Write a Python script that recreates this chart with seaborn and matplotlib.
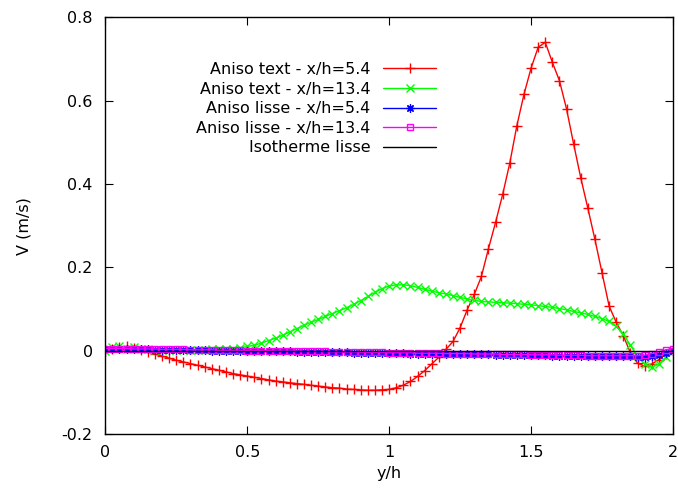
import numpy as np
import pandas as pd
import matplotlib
matplotlib.use("Agg")
import matplotlib.pyplot as plt
import seaborn as sns
from matplotlib.ticker import FuncFormatter

# y/h sampling (shared by the four profiles)
yh = [0.000, 0.025, 0.050, 0.075, 0.100, 0.125, 0.150, 0.175, 0.200, 0.225,
      0.250, 0.275, 0.300, 0.325, 0.350, 0.375, 0.400, 0.425, 0.450, 0.475,
      0.500, 0.525, 0.550, 0.575, 0.600, 0.625, 0.650, 0.675, 0.700, 0.725,
      0.750, 0.775, 0.800, 0.825, 0.850, 0.875, 0.900, 0.925, 0.950, 0.975,
      1.000, 1.025, 1.050, 1.075, 1.100, 1.125, 1.150, 1.175, 1.200, 1.225,
      1.250, 1.275, 1.300, 1.325, 1.350, 1.375, 1.400, 1.425, 1.450, 1.475,
      1.500, 1.525, 1.550, 1.575, 1.600, 1.625, 1.650, 1.675, 1.700, 1.725,
      1.750, 1.775, 1.800, 1.825, 1.850, 1.875, 1.900, 1.925, 1.950, 1.975,
      2.000]

v_text_54 = [0.000, 0.003, 0.008, 0.010, 0.007, 0.002, -0.003, -0.008, -0.013, -0.018,
             -0.023, -0.027, -0.031, -0.035, -0.039, -0.043, -0.047, -0.051, -0.055, -0.058,
             -0.061, -0.064, -0.067, -0.070, -0.073, -0.075, -0.077, -0.079, -0.081, -0.083,
             -0.085, -0.087, -0.089, -0.090, -0.092, -0.093, -0.094, -0.095, -0.095, -0.094,
             -0.093, -0.089, -0.083, -0.074, -0.062, -0.048, -0.032, -0.016, 0.003, 0.022,
             0.055, 0.098, 0.135, 0.178, 0.245, 0.308, 0.375, 0.450, 0.540, 0.615,
             0.678, 0.728, 0.740, 0.692, 0.648, 0.580, 0.496, 0.415, 0.342, 0.267,
             0.187, 0.107, 0.068, 0.036, -0.005, -0.030, -0.037, -0.032, -0.022, -0.008,
             0.000]

v_text_134 = [0.000, 0.008, 0.012, 0.005, 0.008, 0.004, 0.003, 0.002, 0.002, 0.002,
              0.002, 0.002, 0.002, 0.002, 0.002, 0.003, 0.003, 0.004, 0.005, 0.007,
              0.010, 0.013, 0.018, 0.024, 0.030, 0.037, 0.045, 0.053, 0.061, 0.068,
              0.075, 0.082, 0.089, 0.096, 0.103, 0.111, 0.120, 0.130, 0.140, 0.149,
              0.155, 0.158, 0.158, 0.156, 0.152, 0.147, 0.143, 0.139, 0.136, 0.132,
              0.128, 0.124, 0.121, 0.118, 0.117, 0.116, 0.115, 0.114, 0.113, 0.111,
              0.110, 0.108, 0.106, 0.104, 0.101, 0.098, 0.094, 0.091, 0.087, 0.082,
              0.077, 0.070, 0.058, 0.040, 0.013, -0.014, -0.032, -0.040, -0.032, -0.015,
              0.000]

v_lisse_54 = [0.004, 0.004, 0.004, 0.003, 0.003, 0.003, 0.003, 0.002, 0.002, 0.002,
              0.002, 0.001, 0.001, 0.001, 0.001, 0.000, 0.000, 0.000, 0.000, -0.001,
              -0.001, -0.001, -0.001, -0.002, -0.002, -0.002, -0.002, -0.003, -0.003, -0.003,
              -0.003, -0.004, -0.004, -0.004, -0.004, -0.005, -0.005, -0.005, -0.005, -0.006,
              -0.006, -0.006, -0.006, -0.007, -0.007, -0.007, -0.007, -0.008, -0.008, -0.008,
              -0.008, -0.009, -0.009, -0.009, -0.009, -0.010, -0.010, -0.010, -0.010, -0.011,
              -0.011, -0.011, -0.011, -0.012, -0.012, -0.012, -0.012, -0.013, -0.013, -0.013,
              -0.013, -0.014, -0.014, -0.014, -0.014, -0.015, -0.015, -0.013, -0.010, -0.005,
              0.000]

v_lisse_134 = [0.005, 0.005, 0.005, 0.005, 0.004, 0.004, 0.004, 0.004, 0.003, 0.003,
               0.003, 0.003, 0.002, 0.002, 0.002, 0.002, 0.001, 0.001, 0.001, 0.001,
               0.000, 0.000, 0.000, 0.000, -0.001, -0.001, -0.001, -0.001, -0.002, -0.002,
               -0.002, -0.002, -0.003, -0.003, -0.003, -0.003, -0.004, -0.004, -0.004, -0.004,
               -0.005, -0.005, -0.005, -0.005, -0.006, -0.006, -0.006, -0.006, -0.007, -0.007,
               -0.007, -0.007, -0.008, -0.008, -0.008, -0.008, -0.009, -0.009, -0.009, -0.009,
               -0.010, -0.010, -0.010, -0.010, -0.011, -0.011, -0.011, -0.011, -0.012, -0.012,
               -0.012, -0.012, -0.012, -0.012, -0.012, -0.012, -0.011, -0.007, -0.003, 0.002,
               0.005]

iso_yh = [0.0, 2.0]
iso_v = [0.0, 0.0]

labels = ["Aniso text - x/h=5.4", "Aniso text - x/h=13.4",
          "Aniso lisse - x/h=5.4", "Aniso lisse - x/h=13.4", "Isotherme lisse"]

sns.set_style("ticks")
plt.rcParams["font.family"] = ["DejaVu Sans"]
plt.rcParams["font.size"] = 11.5
plt.rcParams["axes.unicode_minus"] = False
plt.rcParams["text.color"] = "black"
plt.rcParams["axes.labelcolor"] = "black"
plt.rcParams["xtick.color"] = "black"
plt.rcParams["ytick.color"] = "black"

fig = plt.figure(figsize=(6.78, 4.96), dpi=100)
ax = fig.add_axes([0.1553, 0.125, 0.8373, 0.8401])

series = [
    (v_text_54, labels[0], "#ff0000", dict(marker="+", markersize=7, markeredgewidth=1.0)),
    (v_text_134, labels[1], "#00ff00", dict(marker="x", markersize=5.5, markeredgewidth=1.0)),
    (v_lisse_54, labels[2], "#0000ff", dict(marker=(8, 2, 0), markersize=6, markeredgewidth=0.9)),
    (v_lisse_134, labels[3], "#ff00ff", dict(marker="s", markersize=5, markeredgewidth=1.0,
                                             markerfacecolor="none")),
]
for vals, lab, col, mk in series:
    df = pd.DataFrame({"yh": yh, "V": vals})
    sns.lineplot(data=df, x="yh", y="V", ax=ax, color=col, linewidth=1.0,
                 label=lab, sort=False, markeredgecolor=col, **mk)

sns.lineplot(x=iso_yh, y=iso_v, ax=ax, color="black", linewidth=1.0, label=labels[4])

ax.set_xlim(0, 2)
ax.set_ylim(-0.2, 0.8)
ax.set_xticks([0, 0.5, 1, 1.5, 2])
ax.set_yticks([-0.2, 0, 0.2, 0.4, 0.6, 0.8])
fmt = FuncFormatter(lambda v, p: "%g" % round(v, 3))
ax.xaxis.set_major_formatter(fmt)
ax.yaxis.set_major_formatter(fmt)
ax.tick_params(direction="in", length=6, width=0.8, top=True, right=True, pad=9,
               colors="black")
ax.tick_params(axis="x", pad=8)
for s in ax.spines.values():
    s.set_linewidth(1.0)
    s.set_color("black")

ax.set_xlabel("y/h", labelpad=4)
ax.set_ylabel("V (m/s)", labelpad=22)

ax.legend(loc="upper right", bbox_to_anchor=(0.5825, 0.893), frameon=False,
          markerfirst=False, handlelength=3.3, handletextpad=0.8,
          labelspacing=0.29, borderpad=0, borderaxespad=0, numpoints=1)

fig.savefig("out.png", dpi=100)
